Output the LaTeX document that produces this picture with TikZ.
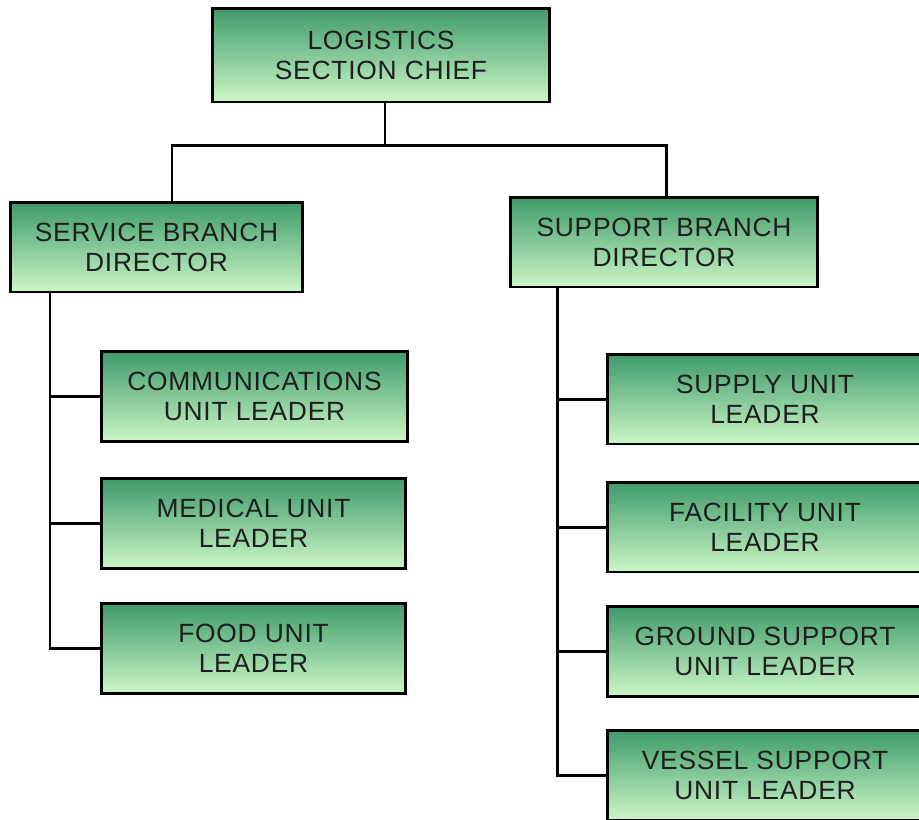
\documentclass[tikz,border=0pt]{standalone}
\usepackage{fontspec}
\setmainfont[LetterSpace=3]{Liberation Sans}
\definecolor{boxtop}{HTML}{3E9A6B}
\definecolor{boxbottom}{HTML}{CCF7C6}
\definecolor{boxtext}{HTML}{1E1E1E}

\tikzset{
  unitbox/.style={draw=black, line width=1.7pt, top color=boxtop, bottom color=boxbottom,
    minimum height=1.8cm, inner sep=0pt, align=center, text=boxtext,
    font=\fontsize{15}{17}\selectfont},
  link/.style={line width=1.7pt}
}

\begin{document}
\begin{tikzpicture}[x=0.02cm, y=-0.02cm]
    % Page
    \clip (0,0) rectangle (919,819);
    \fill[white] (0,0) rectangle (919,819);

    % Boxes
    \node[unitbox, minimum width=6.76cm, minimum height=1.88cm] (chief) at (381,55) {LOGISTICS\\SECTION CHIEF};
    \node[unitbox, minimum width=5.86cm] (service) at (156.5,247) {SERVICE BRANCH\\DIRECTOR};
    \node[unitbox, minimum width=6.16cm] (support) at (664,242) {SUPPORT BRANCH\\DIRECTOR};

    \node[unitbox, minimum width=6.14cm] (comm) at (254.5,396.5) {COMMUNICATIONS\\UNIT LEADER};
    \node[unitbox, minimum width=6.1cm] (medical) at (253.5,523.5) {MEDICAL UNIT\\LEADER};
    \node[unitbox, minimum width=6.1cm] (food) at (253.5,648.5) {FOOD UNIT\\LEADER};

    \node[unitbox, minimum width=6.3cm] (supply) at (765,399) {SUPPLY UNIT\\LEADER};
    \node[unitbox, minimum width=6.3cm] (facility) at (765,527) {FACILITY UNIT\\LEADER};
    \node[unitbox, minimum width=6.3cm] (ground) at (765,651) {GROUND SUPPORT\\UNIT LEADER};
    \node[unitbox, minimum width=6.3cm] (vessel) at (765,775) {VESSEL SUPPORT\\UNIT LEADER};

    % Junctions
    \coordinate (bus) at (385,145);
    \coordinate (sdrop) at (172,0);
    \coordinate (pdrop) at (666,0);
    \coordinate (strunk) at (50,0);
    \coordinate (ptrunk) at (557,0);

    % Chief to branches
    \draw[link] (chief.south -| bus) -- (bus);
    \draw[link] (service.north -| sdrop) |- (bus) -| (support.north -| pdrop);

    % Service branch
    \draw[link] (service.south -| strunk) |- (food.west);
    \draw[link] (comm.west) -- (comm.west -| strunk);
    \draw[link] (medical.west) -- (medical.west -| strunk);

    % Support branch
    \draw[link] (support.south -| ptrunk) |- (vessel.west);
    \draw[link] (supply.west) -- (supply.west -| ptrunk);
    \draw[link] (facility.west) -- (facility.west -| ptrunk);
    \draw[link] (ground.west) -- (ground.west -| ptrunk);
\end{tikzpicture}
\end{document}
